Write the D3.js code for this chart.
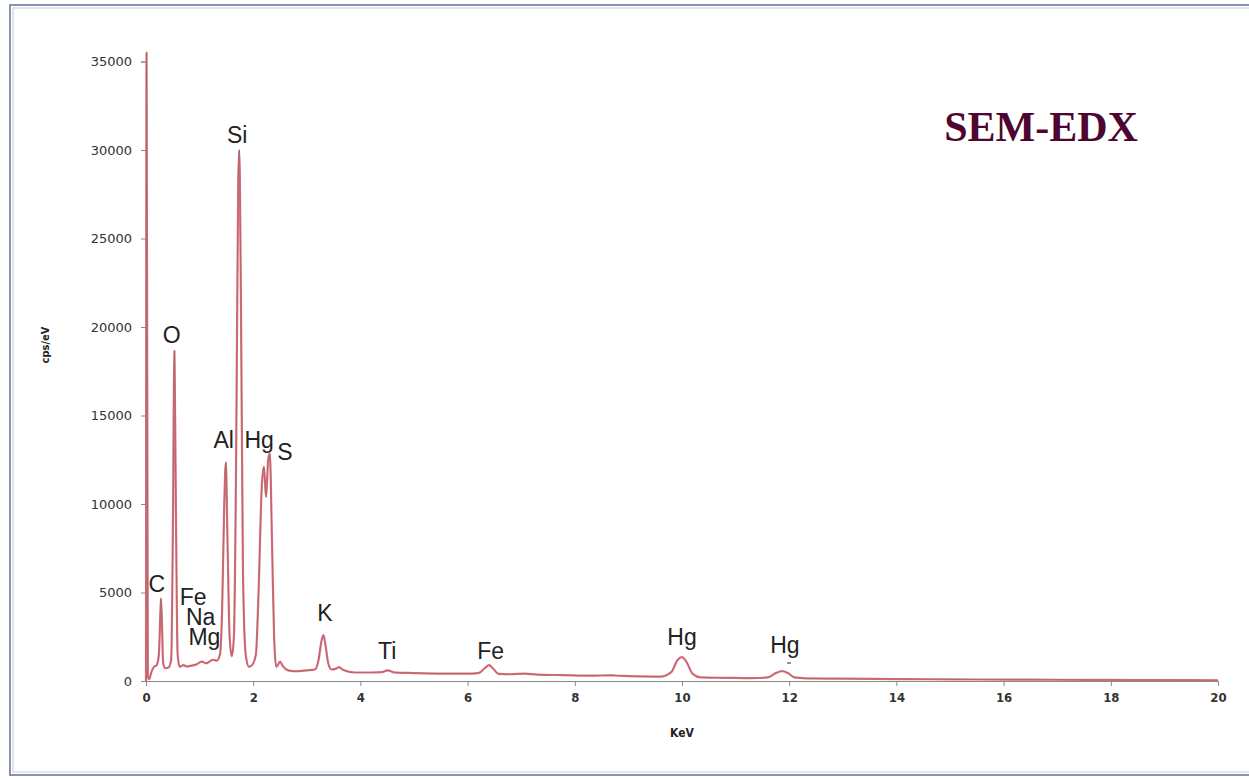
<!DOCTYPE html>
<html>
<head>
<meta charset="utf-8">
<script src="https://cdn.jsdelivr.net/npm/d3@7"></script>
<style>
  body { margin: 0; background: #fff; }
  .ytick text { font-family: "DejaVu Sans", sans-serif; font-size: 13px; fill: #333; }
  .xtick text { font-family: "DejaVu Sans Condensed", sans-serif; font-size: 13px; font-weight: bold; fill: #333; }
</style>
</head>
<body>
<svg class="chart"></svg>
<script>
var width = 1249,
    height = 778;

// spectrum: energy (keV) and counts (cps/eV)
var energy = [0, 0.01, 0.035, 0.06, 0.1, 0.15, 0.2, 0.24, 0.27, 0.28, 0.3, 0.32, 0.36, 0.42, 0.47,
  0.5, 0.53, 0.56, 0.59, 0.63, 0.7, 0.76, 0.85, 0.95, 1.04, 1.12, 1.25, 1.32, 1.38, 1.42, 1.46,
  1.49, 1.52, 1.56, 1.6, 1.64, 1.68, 1.72, 1.74, 1.77, 1.81, 1.86, 1.92, 1.98, 2.05, 2.1, 2.16,
  2.2, 2.24, 2.28, 2.31, 2.35, 2.39, 2.43, 2.46, 2.5, 2.55, 2.65, 2.8, 3.0, 3.15, 3.22, 3.27,
  3.31, 3.35, 3.4, 3.46, 3.55, 3.6, 3.68, 3.9, 4.2, 4.4, 4.51, 4.62, 5.0, 5.5, 6.0, 6.2, 6.33,
  6.4, 6.47, 6.58, 6.8, 7.06, 7.3, 7.8, 8.3, 8.65, 8.75, 9.2, 9.6, 9.8, 9.92, 10.0, 10.08, 10.2,
  10.35, 10.8, 11.3, 11.6, 11.75, 11.87, 11.97, 12.1, 12.3, 13, 14, 15, 16, 17, 18, 19, 20];
var counts = [0, 35500, 200, 100, 500, 800, 900, 1500, 4000, 4650, 3000, 1000, 720, 760, 1200,
  8000, 18650, 9000, 1500, 800, 900, 820, 870, 950, 1100, 1000, 1200, 1150, 1500, 4000, 10000,
  12350, 8000, 2500, 1400, 2500, 12000, 28000, 30000, 22000, 6000, 1500, 800, 900, 1500, 5000, 11000,
  12100, 10400, 12500, 12850, 8000, 2500, 800, 900, 1100, 850, 600, 550, 600, 650, 1200, 2200,
  2600, 2000, 1000, 650, 700, 780, 620, 480, 480, 500, 600, 490, 450, 420, 420, 450, 750,
  900, 720, 400, 380, 420, 360, 330, 300, 320, 310, 260, 250, 500, 1200, 1350, 1100, 400,
  200, 180, 160, 200, 450, 560, 460, 200, 150, 130, 110, 90, 80, 70, 60, 50, 40];

// element labels: name, energy of the label, counts at the label baseline
var labelNames = ["Si", "O", "Al", "Hg", "S", "C", "Fe", "Na", "Mg", "K", "Ti", "Fe", "Hg", "Hg"];
var labelKev = [1.70, 0.48, 1.45, 2.11, 2.59, 0.20, 0.88, 1.02, 1.09, 3.34, 4.50, 6.43, 10.0, 11.92];
var labelCps = [30400, 19100, 13160, 13160, 12480, 5010, 4270, 3140, 2010, 3390, 1240, 1240, 2040, 1580];

var xTicks = [0, 2, 4, 6, 8, 10, 12, 14, 16, 18, 20];
var yTicks = [0, 5000, 10000, 15000, 20000, 25000, 30000, 35000];

var xscale = d3.scaleLinear().domain([0, 20]).range([146, 1218]);
var yscale = d3.scaleLinear().domain([0, 35000]).range([681, 61.5]);

var chart = d3.select(".chart")
    .attr("width", width)
    .attr("height", height);

// frame round the picture
chart.append("rect")
  .attr("x", 10).attr("y", 5)
  .attr("width", 1260).attr("height", 770)
  .attr("fill", "none")
  .attr("stroke", "#8a92b4")
  .attr("stroke-width", 2);
chart.append("rect")
  .attr("x", 13).attr("y", 8)
  .attr("width", 1260).attr("height", 764)
  .attr("fill", "none")
  .attr("stroke", "#d9dce6")
  .attr("stroke-width", 1.5);

// y axis
var yaxis = chart.append("g")
  .attr("class", "ytick")
  .attr("transform", "translate(146,0)")
  .call(d3.axisLeft(yscale).tickValues(yTicks).tickSize(5).tickPadding(9).tickFormat(d3.format("d")));
yaxis.selectAll("line").attr("stroke", "#888");
yaxis.select(".domain").attr("stroke", "#888");
yaxis.selectAll("text").attr("font-family", null).attr("font-size", null).attr("fill", null);

// x axis
var xaxis = chart.append("g")
  .attr("class", "xtick")
  .attr("transform", "translate(0,681)")
  .call(d3.axisBottom(xscale).tickValues(xTicks).tickSize(5).tickSizeOuter(5).tickPadding(7).tickFormat(d3.format("d")));
xaxis.selectAll("line").attr("stroke", "#888");
xaxis.select(".domain").attr("stroke", "#888");
xaxis.selectAll("text").attr("font-family", null).attr("font-size", null).attr("fill", null);

// spectrum, pink line with a thin grey one on top
var line = d3.line()
  .curve(d3.curveMonotoneX)
  .x(function(d) { return xscale(d[0]); })
  .y(function(d) { return yscale(d[1]); });

chart.append("path")
  .datum(d3.zip(energy, counts))
  .attr("d", line)
  .attr("fill", "none")
  .attr("stroke", "#e46e7c")
  .attr("stroke-width", 2.2)
  .attr("stroke-linejoin", "round");
chart.append("path")
  .datum(d3.zip(energy, counts))
  .attr("d", line)
  .attr("fill", "none")
  .attr("stroke", "#96686c")
  .attr("stroke-width", 0.7)
  .attr("stroke-linejoin", "round");

// element labels
chart.selectAll(".peak")
    .data(d3.range(labelNames.length))
  .enter().append("text")
    .attr("class", "peak")
    .attr("x", function(i) { return xscale(labelKev[i]); })
    .attr("y", function(i) { return yscale(labelCps[i]); })
    .attr("text-anchor", "middle")
    .attr("font-family", "Liberation Sans, Arial, sans-serif")
    .attr("font-size", 23)
    .attr("fill", "#222")
    .text(function(i) { return labelNames[i]; });

// little dash under the last Hg
chart.append("line")
  .attr("x1", 787).attr("x2", 791)
  .attr("y1", 663).attr("y2", 663)
  .attr("stroke", "#444")
  .attr("stroke-width", 1.2);

// axis titles
chart.append("text")
  .attr("x", 682)
  .attr("y", 737)
  .attr("text-anchor", "middle")
  .attr("font-family", "DejaVu Sans Condensed, sans-serif")
  .attr("font-size", 12)
  .attr("font-weight", "bold")
  .attr("fill", "#222")
  .text("KeV");

chart.append("text")
  .attr("transform", "translate(49,345) rotate(-90)")
  .attr("text-anchor", "middle")
  .attr("font-family", "DejaVu Sans Condensed, sans-serif")
  .attr("font-size", 11)
  .attr("font-weight", "bold")
  .attr("fill", "#222")
  .text("cps/eV");

// title
chart.append("text")
  .attr("x", 1041)
  .attr("y", 141)
  .attr("text-anchor", "middle")
  .attr("font-family", "Liberation Serif, serif")
  .attr("font-size", 42)
  .attr("font-weight", "bold")
  .attr("fill", "#4e0630")
  .text("SEM-EDX");
</script>
</body>
</html>
